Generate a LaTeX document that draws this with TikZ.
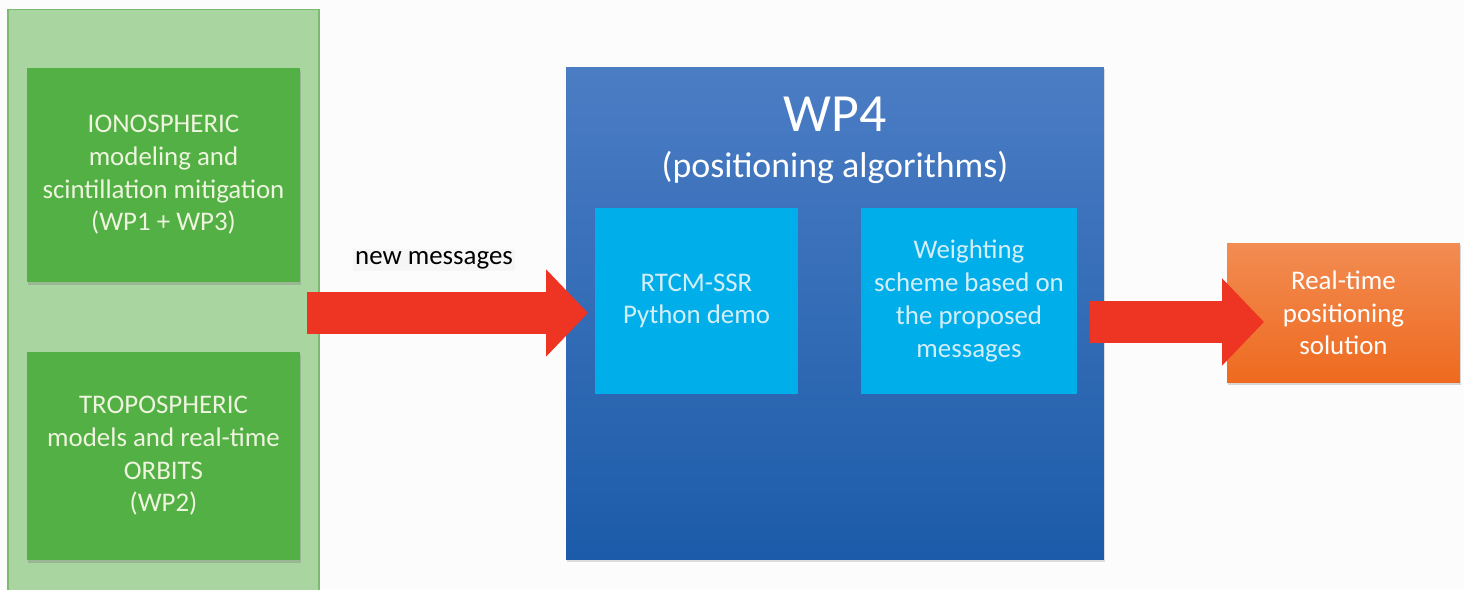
\documentclass[tikz,border=0pt]{standalone}
\usepackage{fontspec}
\setmainfont{Carlito}
\usetikzlibrary{arrows.meta,shadows}
\definecolor{panelfill}{HTML}{A9D5A0}
\definecolor{paneldraw}{HTML}{7DBA6F}
\definecolor{greenbox}{HTML}{52B044}
\definecolor{greentext}{HTML}{EEF4DE}
\definecolor{bluetop}{HTML}{4B7DC4}
\definecolor{bluebot}{HTML}{1C5BA9}
\definecolor{cyanbox}{HTML}{00AEEA}
\definecolor{cyantext}{HTML}{D4EEF8}
\definecolor{orangetop}{HTML}{F28C52}
\definecolor{orangebot}{HTML}{EE6A1F}
\definecolor{arrowred}{HTML}{EE3524}
\tikzset{
  x=0.02cm, y=-0.02cm,
  txt/.style={font=\fontsize{15.3}{18.6}\selectfont, align=center, inner sep=0pt},
  greenbox/.style={txt, rectangle, fill=greenbox, text=greentext,
    drop shadow={opacity=0.35, shadow xshift=0.6pt, shadow yshift=-1.6pt}},
  cyanbox/.style={txt, rectangle, fill=cyanbox, text=cyantext},
  bigarrow/.style={draw=arrowred, line width=0.84cm,
    -{Triangle[length=0.84cm, width=1.7cm]}},
}
\begin{document}
\begin{tikzpicture}
\useasboundingbox (0,0) rectangle (1464,590);
\fill[white!98!gray] (0,0) rectangle (1464,590);
% left panel
\node[rectangle, draw=paneldraw, line width=0.8pt, fill=panelfill,
  minimum width=6.22cm, minimum height=11.7cm] (panel) at (163.5,302) {};
\node[greenbox, minimum width=5.46cm, minimum height=4.28cm] (iono) at (163.5,175)
  {IONOSPHERIC\\modeling and\\scintillation mitigation\\(WP1 + WP3)};
\node[greenbox, minimum width=5.46cm, minimum height=4.16cm] (tropo) at (163.5,456)
  {TROPOSPHERIC\\models and real-time\\ORBITS\\(WP2)};
% WP4 block
\node[rectangle, top color=bluetop, bottom color=bluebot,
  drop shadow={opacity=0.25, shadow xshift=0.6pt, shadow yshift=-1.2pt},
  minimum width=10.76cm, minimum height=9.86cm] (wp4) at (835,313.5) {};
\node[txt, text=white, font=\fontsize{30.6}{36}\selectfont] (wp4t) at (835,114) {WP4};
\node[txt, text=white, font=\fontsize{20.4}{24}\selectfont] (wp4s) at (835,167) {(positioning algorithms)};
\node[cyanbox, minimum width=4.06cm, minimum height=3.72cm] (rtcm) at (696.5,301)
  {RTCM-SSR\\Python demo};
\node[cyanbox, minimum width=4.32cm, minimum height=3.72cm] (weight) at (969,301)
  {Weighting\\scheme based on\\the proposed\\messages};
% output
\node[txt, rectangle, top color=orangetop, bottom color=orangebot, text=white,
  drop shadow={opacity=0.3, shadow xshift=0.6pt, shadow yshift=-1.4pt},
  minimum width=4.66cm, minimum height=2.8cm] (out) at (1343.5,313)
  {Real-time\\positioning\\solution};
% arrows
\coordinate (a1s) at (307,313);
\coordinate (a1e) at (588,313);
\coordinate (a2s) at (1090,322);
\coordinate (a2e) at (1264,322);
\draw[bigarrow] (a1s) -- (a1e);
\draw[bigarrow] (a2s) -- (a2e);
\node[txt, text=black, fill=gray!7, inner sep=1pt] (lbl) at (434,260) {new messages};
\end{tikzpicture}
\end{document}
